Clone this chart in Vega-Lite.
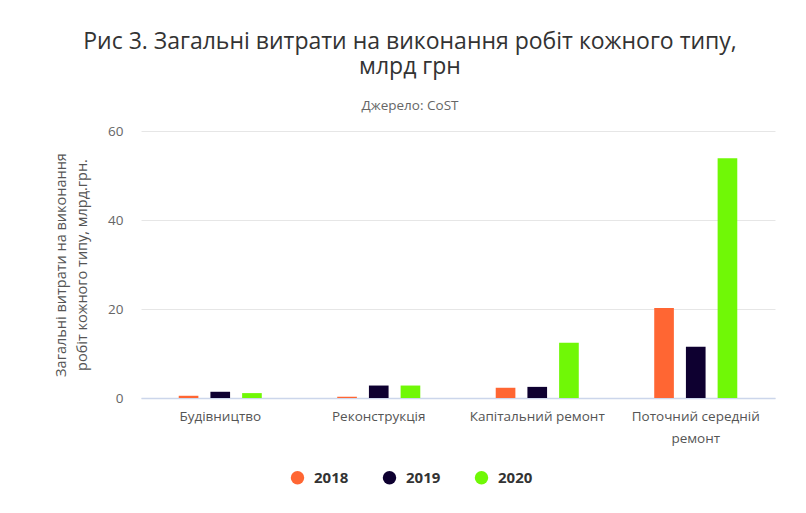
{
  "$schema": "https://vega.github.io/schema/vega-lite/v6.json",
  "width": 634,
  "height": 267,
  "autosize": {"type": "none"},
  "padding": {"left": 141, "top": 131, "right": 31, "bottom": 115},
  "background": "#ffffff",
  "title": {
    "text": ["Рис 3. Загальні витрати на виконання робіт кожного типу,", "млрд грн"],
    "subtitle": "Джерело: CoST",
    "anchor": "middle",
    "frame": "group",
    "dx": -48,
    "font": "Open Sans",
    "fontSize": 23,
    "fontWeight": "normal",
    "lineHeight": 25,
    "color": "#333333",
    "subtitleFont": "Open Sans",
    "subtitleFontSize": 13.5,
    "subtitleColor": "#666666",
    "subtitlePadding": 20,
    "offset": 12
  },
  "data": {
    "values": [
      {"type": "Будівництво", "year": "2018", "value": 0.5},
      {"type": "Будівництво", "year": "2019", "value": 1.4},
      {"type": "Будівництво", "year": "2020", "value": 1.1},
      {"type": "Реконструкція", "year": "2018", "value": 0.3},
      {"type": "Реконструкція", "year": "2019", "value": 2.8},
      {"type": "Реконструкція", "year": "2020", "value": 2.8},
      {"type": "Капітальний ремонт", "year": "2018", "value": 2.3},
      {"type": "Капітальний ремонт", "year": "2019", "value": 2.5},
      {"type": "Капітальний ремонт", "year": "2020", "value": 12.4},
      {"type": "Поточний середній ремонт", "year": "2018", "value": 20.2},
      {"type": "Поточний середній ремонт", "year": "2019", "value": 11.5},
      {"type": "Поточний середній ремонт", "year": "2020", "value": 53.9}
    ]
  },
  "mark": {"type": "bar"},
  "encoding": {
    "x": {
      "field": "type",
      "type": "nominal",
      "sort": null,
      "scale": {"paddingInner": 0.476, "paddingOuter": 0.238},
      "axis": {
        "title": null,
        "labelAngle": 0,
        "labelFont": "Open Sans",
        "labelFontSize": 13.5,
        "labelColor": "#555555",
        "labelPadding": 11,
        "labelLimit": 170,
        "labelExpr": "datum.value == 'Поточний середній ремонт' ? ['Поточний середній', 'ремонт'] : datum.value",
        "labelLineHeight": 22,
        "ticks": false,
        "domainColor": "#ccd6eb",
        "domainWidth": 1.5
      }
    },
    "xOffset": {
      "field": "year",
      "type": "nominal",
      "scale": {"paddingInner": 0.38, "paddingOuter": 0}
    },
    "y": {
      "field": "value",
      "type": "quantitative",
      "scale": {"domain": [0, 60]},
      "axis": {
        "values": [0, 20, 40, 60],
        "title": ["Загальні витрати на виконання", "робіт кожного типу, млрд.грн."],
        "titleFont": "Open Sans",
        "titleFontSize": 14.5,
        "titleFontWeight": "normal",
        "titleColor": "#555555",
        "titleLineHeight": 21,
        "titlePadding": 18,
        "labelFont": "Open Sans",
        "labelFontSize": 13.5,
        "labelColor": "#666666",
        "labelPadding": 18,
        "ticks": false,
        "domain": false,
        "gridColor": "#e6e6e6"
      }
    },
    "color": {
      "field": "year",
      "type": "nominal",
      "scale": {"domain": ["2018", "2019", "2020"], "range": ["#ff6633", "#0e0030", "#70f806"]},
      "legend": {
        "title": null,
        "orient": "none",
        "direction": "horizontal",
        "legendX": 149,
        "legendY": 339,
        "symbolType": "circle",
        "symbolSize": 180,
        "symbolStrokeWidth": 0,
        "labelFont": "Open Sans",
        "labelFontSize": 15,
        "labelFontWeight": "bold",
        "labelColor": "#333333",
        "columnPadding": 33,
        "labelOffset": 9
      }
    }
  },
  "config": {"view": {"stroke": null}}
}
